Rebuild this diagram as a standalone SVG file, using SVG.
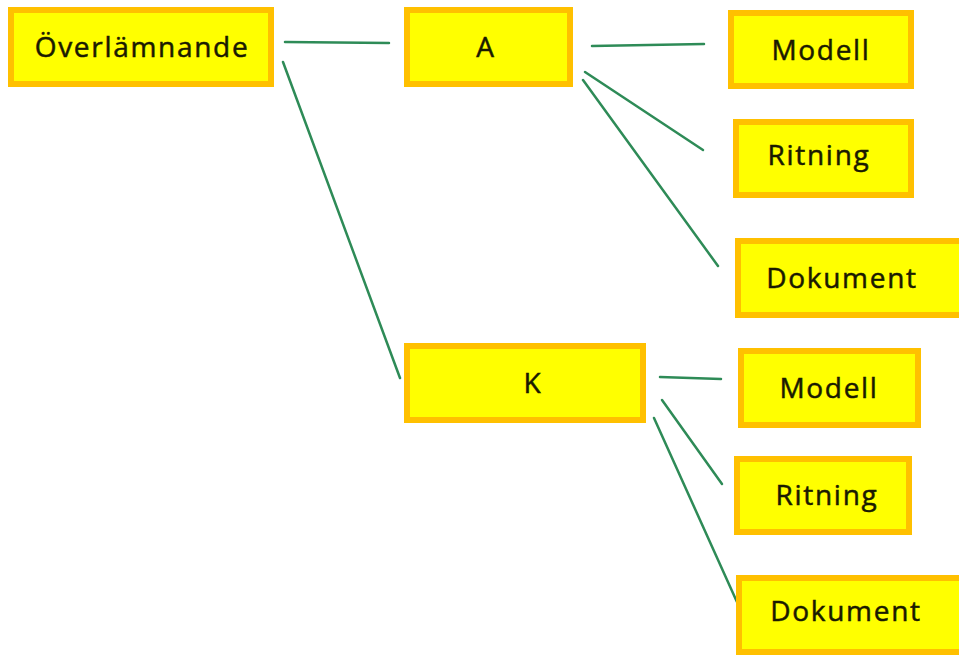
<svg xmlns="http://www.w3.org/2000/svg" width="959" height="655" viewBox="0 0 959 655">
<style>
.box{fill:#ffff00;stroke:#ffc000;stroke-width:6}
.lbl{font-family:"Open Sans","Liberation Sans",sans-serif;font-size:28px;letter-spacing:1.7px;fill:#1a1a00;stroke:#1a1a00;stroke-width:0.5;text-anchor:middle}
.con{stroke:#2e8b57;stroke-width:2.5;fill:none;stroke-linecap:round}
</style>
<rect width="959" height="655" fill="#ffffff"/>
<g id="connectors">
<line class="con" x1="285" y1="42" x2="389" y2="43"/>
<line class="con" x1="283" y1="62" x2="400" y2="378"/>
<line class="con" x1="592" y1="46" x2="704" y2="44"/>
<line class="con" x1="585" y1="72" x2="703" y2="150"/>
<line class="con" x1="583" y1="80" x2="718" y2="266"/>
<line class="con" x1="660" y1="377" x2="721" y2="379"/>
<line class="con" x1="662" y1="400" x2="722" y2="484"/>
<line class="con" x1="654" y1="418" x2="737" y2="602"/>
</g>
<g id="n-overlamnande"><rect class="box" x="11" y="10" width="260" height="74"/><text class="lbl" x="142" y="57">Överlämnande</text></g>
<g id="n-a"><rect class="box" x="407" y="10" width="163" height="74"/><text class="lbl" x="486" y="57">A</text></g>
<g id="n-a-modell"><rect class="box" x="731" y="13" width="180" height="73"/><text class="lbl" x="821" y="60">Modell</text></g>
<g id="n-a-ritning"><rect class="box" x="736" y="122" width="175" height="73"/><text class="lbl" x="819" y="165">Ritning</text></g>
<g id="n-a-dokument"><rect class="box" x="738" y="241" width="226" height="74"/><text class="lbl" x="842" y="288">Dokument</text></g>
<g id="n-k"><rect class="box" x="407" y="346" width="236" height="74"/><text class="lbl" x="533" y="393">K</text></g>
<g id="n-k-modell"><rect class="box" x="741" y="351" width="177" height="74"/><text class="lbl" x="829" y="398">Modell</text></g>
<g id="n-k-ritning"><rect class="box" x="737" y="459" width="172" height="73"/><text class="lbl" x="827" y="505">Ritning</text></g>
<g id="n-k-dokument"><rect class="box" x="739" y="578" width="226" height="74"/><text class="lbl" x="846" y="621">Dokument</text></g>
</svg>
